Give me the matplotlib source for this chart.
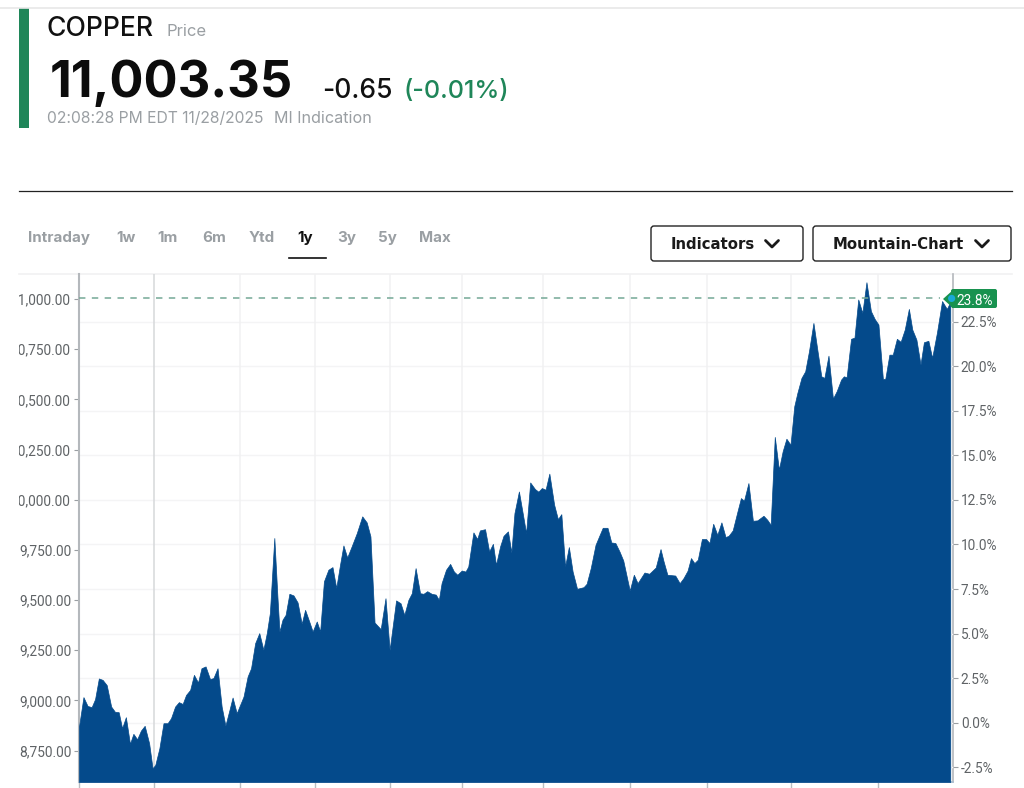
# Copper price page: header block, range tabs and 1y mountain chart
import matplotlib
matplotlib.use("Agg")
import matplotlib.pyplot as plt
from matplotlib.patches import Circle, FancyBboxPatch, Polygon, Rectangle
from matplotlib.transforms import Bbox

# Price series (session number, price)
sessions = [
    0.0, 1.3, 2.5, 3.7, 4.7, 5.8, 6.9, 8.1, 9.4, 10.5, 11.6, 12.6, 13.7, 14.9, 15.9, 17.0,
    18.1, 19.2, 20.5, 21.5, 22.3, 23.5, 24.7, 25.9, 26.9, 28.1, 29.2, 30.3, 31.3, 32.5, 33.6,
    34.8, 35.8, 37.0, 38.3, 39.3, 40.5, 41.7, 42.8, 44.0, 44.9, 46.1, 48.1, 49.3, 50.3, 51.5,
    52.7, 53.9, 54.9, 55.8, 57.1, 58.0, 58.6, 59.5, 60.4, 61.5, 62.7, 63.9, 65.1, 66.1, 67.3,
    68.3, 69.5, 70.5, 71.6, 72.9, 74.1, 75.2, 76.3, 77.3, 78.4, 79.7, 81.2, 82.8, 84.1, 85.2,
    86.4, 88.2, 89.6, 90.8, 92.7, 94.0, 95.1, 96.3, 97.3, 98.4, 99.7, 100.7, 101.8, 103.1,
    104.3, 105.2, 106.0, 107.3, 108.5, 109.6, 110.6, 111.9, 113.0, 113.8, 115.3, 116.4, 117.2,
    118.7, 119.9, 121.0, 121.9, 123.1, 124.1, 125.4, 126.4, 127.3, 128.6, 129.7, 130.7, 131.9,
    133.3, 134.3, 135.3, 136.4, 137.5, 138.9, 140.0, 141.0, 142.1, 143.2, 144.3, 145.6, 147.5,
    148.4, 149.6, 151.0, 152.1, 153.1, 154.5, 155.6, 156.8, 158.0, 159.1, 161.0, 162.2, 163.3,
    165.3, 166.7, 168.6, 170.0, 170.9, 172.0, 174.3, 175.6, 176.7, 177.9, 178.9, 179.9, 180.9,
    182.1, 183.3, 184.3, 185.4, 186.6, 187.8, 189.0, 189.9, 191.1, 192.5, 193.5, 194.4, 195.7,
    197.0, 198.3, 200.1, 201.2, 202.2, 203.4, 204.6, 205.7, 206.8, 208.0, 209.1, 210.0, 211.2,
    212.3, 213.4, 214.7, 215.9, 217.0, 217.9, 219.1, 220.4, 221.5, 222.8, 223.6, 224.4, 225.7,
    226.7, 227.8, 229.0, 230.2, 231.5, 232.6, 233.7, 235.0, 235.7, 236.9, 237.9, 239.1, 240.2,
    241.4, 242.6, 243.6, 244.8, 246.0, 247.0, 248.3, 249.4, 250.8, 252.3, 253.7, 254.7,
]
prices = [
    8869, 9016, 8972, 8966, 9006, 9109, 9102, 9076, 8969, 8943, 8941, 8861, 8916, 8783, 8833, 8806,
    8849, 8873, 8786, 8661, 8678, 8761, 8886, 8886, 8911, 8969, 8991, 8982, 9027, 9052, 9127,
    9089, 9160, 9169, 9106, 9111, 9160, 8969, 8874, 8953, 9014, 8936, 9019, 9119, 9160, 9285,
    9335, 9252, 9335, 9435, 9809, 9518, 9343, 9402, 9426, 9531, 9523, 9488, 9382, 9451, 9393,
    9343, 9393, 9343, 9593, 9651, 9664, 9560, 9675, 9772, 9712, 9767, 9833, 9917, 9887, 9817,
    9388, 9355, 9509, 9251, 9498, 9484, 9426, 9501, 9534, 9659, 9534, 9531, 9544, 9531,
    9527, 9501, 9584, 9651, 9680, 9642, 9626, 9647, 9642, 9667, 9837, 9804, 9847,
    9853, 9742, 9780, 9675, 9767, 9820, 9842, 9737, 9933, 10041, 9933, 9833, 10086,
    10053, 10040, 10058, 10050, 10130, 9975, 9903, 9928, 9667, 9764, 9642, 9556, 9564,
    9581, 9659, 9775, 9820, 9860, 9860, 9787, 9784, 9742, 9697, 9547, 9626, 9584,
    9637, 9631, 9662, 9754, 9692, 9626, 9622, 9584, 9609, 9646, 9709, 9684, 9701,
    9804, 9804, 9784, 9880, 9825, 9887, 9814, 9820, 9847, 9942, 10008, 9995, 10083,
    9895, 9897, 9920, 9900, 9875, 10313, 10150, 10241, 10304, 10274, 10466, 10532, 10607,
    10640, 10740, 10881, 10740, 10615, 10607, 10718, 10504, 10541, 10599, 10615, 10610, 10802,
    10808, 10998, 10931, 11084, 10940, 10901, 10873, 10602, 10602, 10723, 10723, 10802, 10787,
    10848, 10951, 10848, 10798, 10674, 10785, 10792, 10707, 10832, 10990, 10951, 10985,
]
month_ticks = [22, 47, 69, 91, 112, 135.5, 161, 183.5, 208, 233.6]
price_ticks = [8750, 9000, 9250, 9500, 9750, 10000, 10250, 10500, 10750, 11000]
pct_ticks = [-2.5, 0, 2.5, 5, 7.5, 10, 12.5, 15, 17.5, 20, 22.5]
tabs = ["Intraday", "1w", "1m", "6m", "Ytd", "1y", "3y", "5y", "Max"]
tab_x = [28, 116, 157, 202, 249, 297, 337, 378, 419]
last_session = 255.1
last_price = 11003.35
base_price = 8888
last_pct = 23.8

BLUE = "#044a8b"
GREEN = "#1f8659"
GREY = "#9a9fa3"
AXIS_TEXT = "#5f6366"

plt.rcParams["font.family"] = ["Inter", "DejaVu Sans"]

W, H = 1024, 788
fig = plt.figure(figsize=(W / 100, H / 100), dpi=100, facecolor="white")

# Overlay in page pixels for the header and the buttons
page = fig.add_axes([0, 0, 1, 1], zorder=0)
page.set_xlim(0, W)
page.set_ylim(H, 0)
page.axis("off")

# Main chart
ax = fig.add_axes([79 / W, 1 - 782 / H, (953 - 79) / W, (782 - 274) / H], zorder=4)
ax.patch.set_alpha(0)
ax.set_xlim(0, 255.5)
ax.set_ylim(8593, 11125)
ax.fill_between(sessions, prices, 8593, color=BLUE, lw=0.5, zorder=3)

# Percent axis on the right, gridlines follow it
pct_axis = ax.secondary_yaxis(
    "right",
    functions=(lambda p: (p / base_price - 1) * 100, lambda r: base_price * (1 + r / 100)),
)
pct_axis.set_yticks(pct_ticks)
pct_axis.set_yticklabels(["%.1f%%" % t for t in pct_ticks], family="Roboto")
pct_axis.tick_params(length=3.6, width=0.8, color="#9a9fa3", labelcolor=AXIS_TEXT, labelsize=9.8, pad=2)
pct_axis.spines["right"].set_color("#b4b8bc")
pct_axis.spines["right"].set_linewidth(1.2)
for t in pct_ticks:
    ax.axhline(base_price * (1 + t / 100), color="#f4f4f5", lw=1, zorder=1)

# Month gridlines, the year change is darker
ax.set_xticks([0] + month_ticks)
ax.set_xticklabels([])
ax.tick_params(axis="x", length=4, width=1, color="#b9bdc1")
for i, m in enumerate(month_ticks):
    ax.axvline(m, color="#d6d8da" if i == 0 else "#f1f1f2", lw=1.1, zorder=1)

# Left axis, labels are cut off by the page edge of the screenshot
ax.set_yticks(price_ticks)
ax.set_yticklabels(["{:,.2f}".format(p) for p in price_ticks], family="Roboto")
ax.tick_params(axis="y", length=3.6, width=0.8, color="#9a9fa3", labelcolor=AXIS_TEXT, labelsize=9.9, pad=2)
clip = Bbox([[19, 0], [79, H]])
for label in ax.get_yticklabels():
    label.set_clip_box(clip)
    label.set_clip_on(True)
for side in ["top", "right"]:
    ax.spines[side].set_visible(False)
ax.spines["left"].set_color("#b4b8bc")
ax.spines["left"].set_linewidth(1.5)
ax.spines["bottom"].set_color("#a9bdd0")
ax.spines["bottom"].set_linewidth(1.2)

# Last price line
ax.axhline(last_price, xmax=0.985, color="#74a896", lw=1.1, dashes=(4.2, 4.2), zorder=4)

# Header
page.plot([0, W], [8, 8], color="#e8e8e8", lw=1.2)
page.add_patch(Rectangle((19, 8), 10, 120, color=GREEN, lw=0))
page.text(47, 36, "COPPER", fontsize=19.1, fontweight=500, color="#111111", va="baseline")
page.text(166, 36, "Price", fontsize=12, color=GREY, va="baseline")
page.text(50, 97, "11,003.35", fontsize=36.4, fontweight="bold", color="#0c0c0c", va="baseline")
page.text(322, 98, "-0.65", fontsize=19, fontweight=500, color="#111111", va="baseline")
page.text(403, 98, "(-0.01%)", fontsize=18.1, fontweight=500, color=GREEN, va="baseline")
page.text(47, 123, "02:08:28 PM EDT 11/28/2025", fontsize=11.3, color=GREY, va="baseline")
page.text(274, 123, "MI Indication", fontsize=11.6, color=GREY, va="baseline")
page.plot([19, 1012], [191, 191], color="#222222", lw=0.9)

# Range tabs
for name, x in zip(tabs, tab_x):
    page.text(x, 242, name, fontsize=10.9, fontweight="bold", va="baseline",
              color="#111111" if name == "1y" else GREY)
page.plot([289, 326], [258, 258], color="#111111", lw=1.2)

# Buttons with chevrons
for x0, x1, name, tx, cx in [(651, 803, "Indicators", 671, 772), (813, 1011, "Mountain-Chart", 833, 982)]:
    page.add_patch(FancyBboxPatch((x0, 226), x1 - x0, 35, boxstyle="round,pad=0,rounding_size=3",
                                  fc="white", ec="#222222", lw=1))
    page.text(tx, 249, name, fontsize=10.7, fontweight="bold", family="DejaVu Sans", color="#1a1a1a", va="baseline")
    page.plot([cx - 6.5, cx, cx + 6.5], [240.5, 247, 240.5], color="#1a1a1a", lw=2, solid_capstyle="round")

# Chart top border
page.plot([19, 1012], [274, 274], color="#f1f1f2", lw=1.2)

# Value tag sits above the chart, dot on top of it
tag = fig.add_axes([0, 0, 1, 1], zorder=5)
tag.patch.set_alpha(0)
tag.set_xlim(0, W)
tag.set_ylim(H, 0)
tag.axis("off")
tag.add_patch(Polygon([[943, 299], [953, 290], [953, 308]], color="#18924f", lw=0, zorder=2))
tag.add_patch(FancyBboxPatch((951, 289), 46, 19, boxstyle="round,pad=0,rounding_size=2", fc="#18924f", ec="none", zorder=2))
tag.text(956.5, 299, "%.1f%%" % last_pct, fontsize=9.8, family="Roboto", color="white", va="center_baseline", zorder=3)
dot_x, dot_y = ax.transData.transform((last_session, last_price))
tag.add_patch(Circle((dot_x, H - dot_y), 3.6, fc="#1aa9d6", ec="none", zorder=4))

fig.savefig("out.png", dpi=100, facecolor="white")
